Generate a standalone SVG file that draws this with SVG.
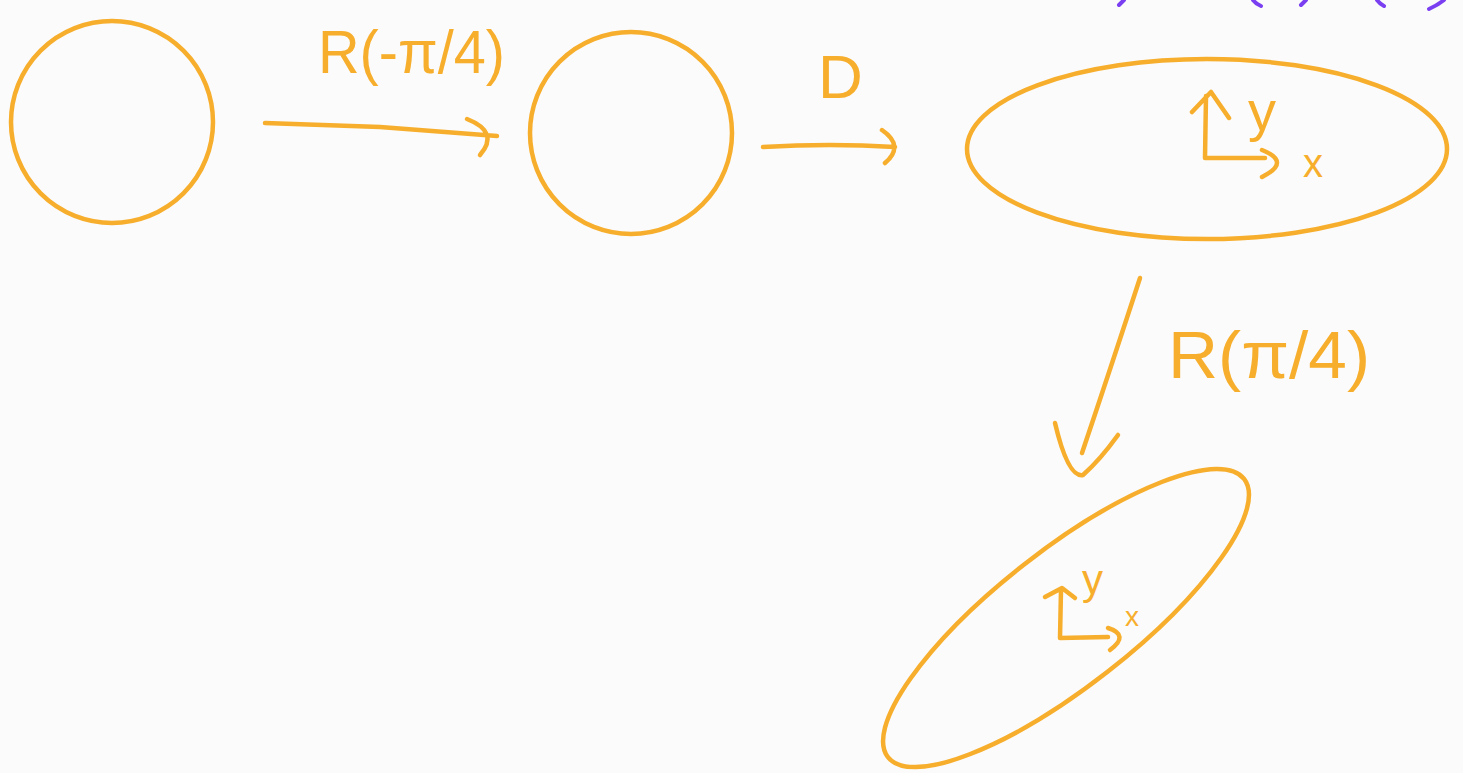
<svg xmlns="http://www.w3.org/2000/svg" width="1463" height="773" viewBox="0 0 1463 773">
<style>
.s{fill:none;stroke:#F7AE2C;stroke-width:4.5;stroke-linecap:round;stroke-linejoin:round}
.t{fill:#F7AE2C;font-family:"Liberation Sans",Arial,sans-serif}
.p{fill:none;stroke:#7B3FF2;stroke-width:4;stroke-linecap:round}
</style>
<rect width="1463" height="773" fill="#FBFBFB"/>
<g id="top-marks">
<path class="p" d="M1124,0 L1119,5"/>
<path class="p" d="M1253,0 Q1256,4 1261,6"/>
<path class="p" d="M1306,0 L1301,5"/>
<path class="p" d="M1377,0 Q1380,4 1384,6"/>
<path class="p" d="M1444,0 Q1438,5 1429,9"/>
</g>
<g id="circle1"><ellipse class="s" cx="112" cy="122" rx="101" ry="101"/></g>
<g id="circle2"><ellipse class="s" cx="631" cy="133" rx="101" ry="101"/></g>
<g id="ellipse3">
<ellipse class="s" cx="1207" cy="149" rx="240" ry="90"/>
<path class="s" d="M1205,158 L1206,96 M1192,112 L1211,92 L1229,118 M1205,158 L1265,158 M1262,150 Q1292,162 1262,177"/>
<text class="t" x="1248" y="130" font-size="56">y</text>
<text class="t" x="1303" y="177" font-size="40">x</text>
</g>
<g id="ellipse4">
<ellipse class="s" cx="1066" cy="618" rx="226" ry="68" transform="rotate(-38 1066 618)"/>
<path class="s" d="M1060,638 L1061,590 M1045,597 L1062,588 L1075,598 M1060,638 L1108,637 M1108,628 Q1130,635 1110,650"/>
<text class="t" x="1082" y="594" font-size="42">y</text>
<text class="t" x="1125" y="626" font-size="28">x</text>
</g>
<g id="connectors">
<path class="s" d="M265,123 L380,127 L497,136 M467,119 Q500,132 480,155"/>
<path class="s" d="M763,147 Q830,143 895,147 M882,130 Q905,146 885,163"/>
<path class="s" d="M1140,278 Q1110,370 1082,453 M1055,423 Q1068,478 1083,475 Q1100,460 1118,435"/>
</g>
<g id="labels">
<text class="t" x="318" y="73" font-size="62" textLength="187" lengthAdjust="spacingAndGlyphs">R(-π/4)</text>
<text class="t" x="818" y="98" font-size="62">D</text>
<text class="t" x="1168" y="378" font-size="66" textLength="202" lengthAdjust="spacingAndGlyphs">R(π/4)</text>
</g>
</svg>
